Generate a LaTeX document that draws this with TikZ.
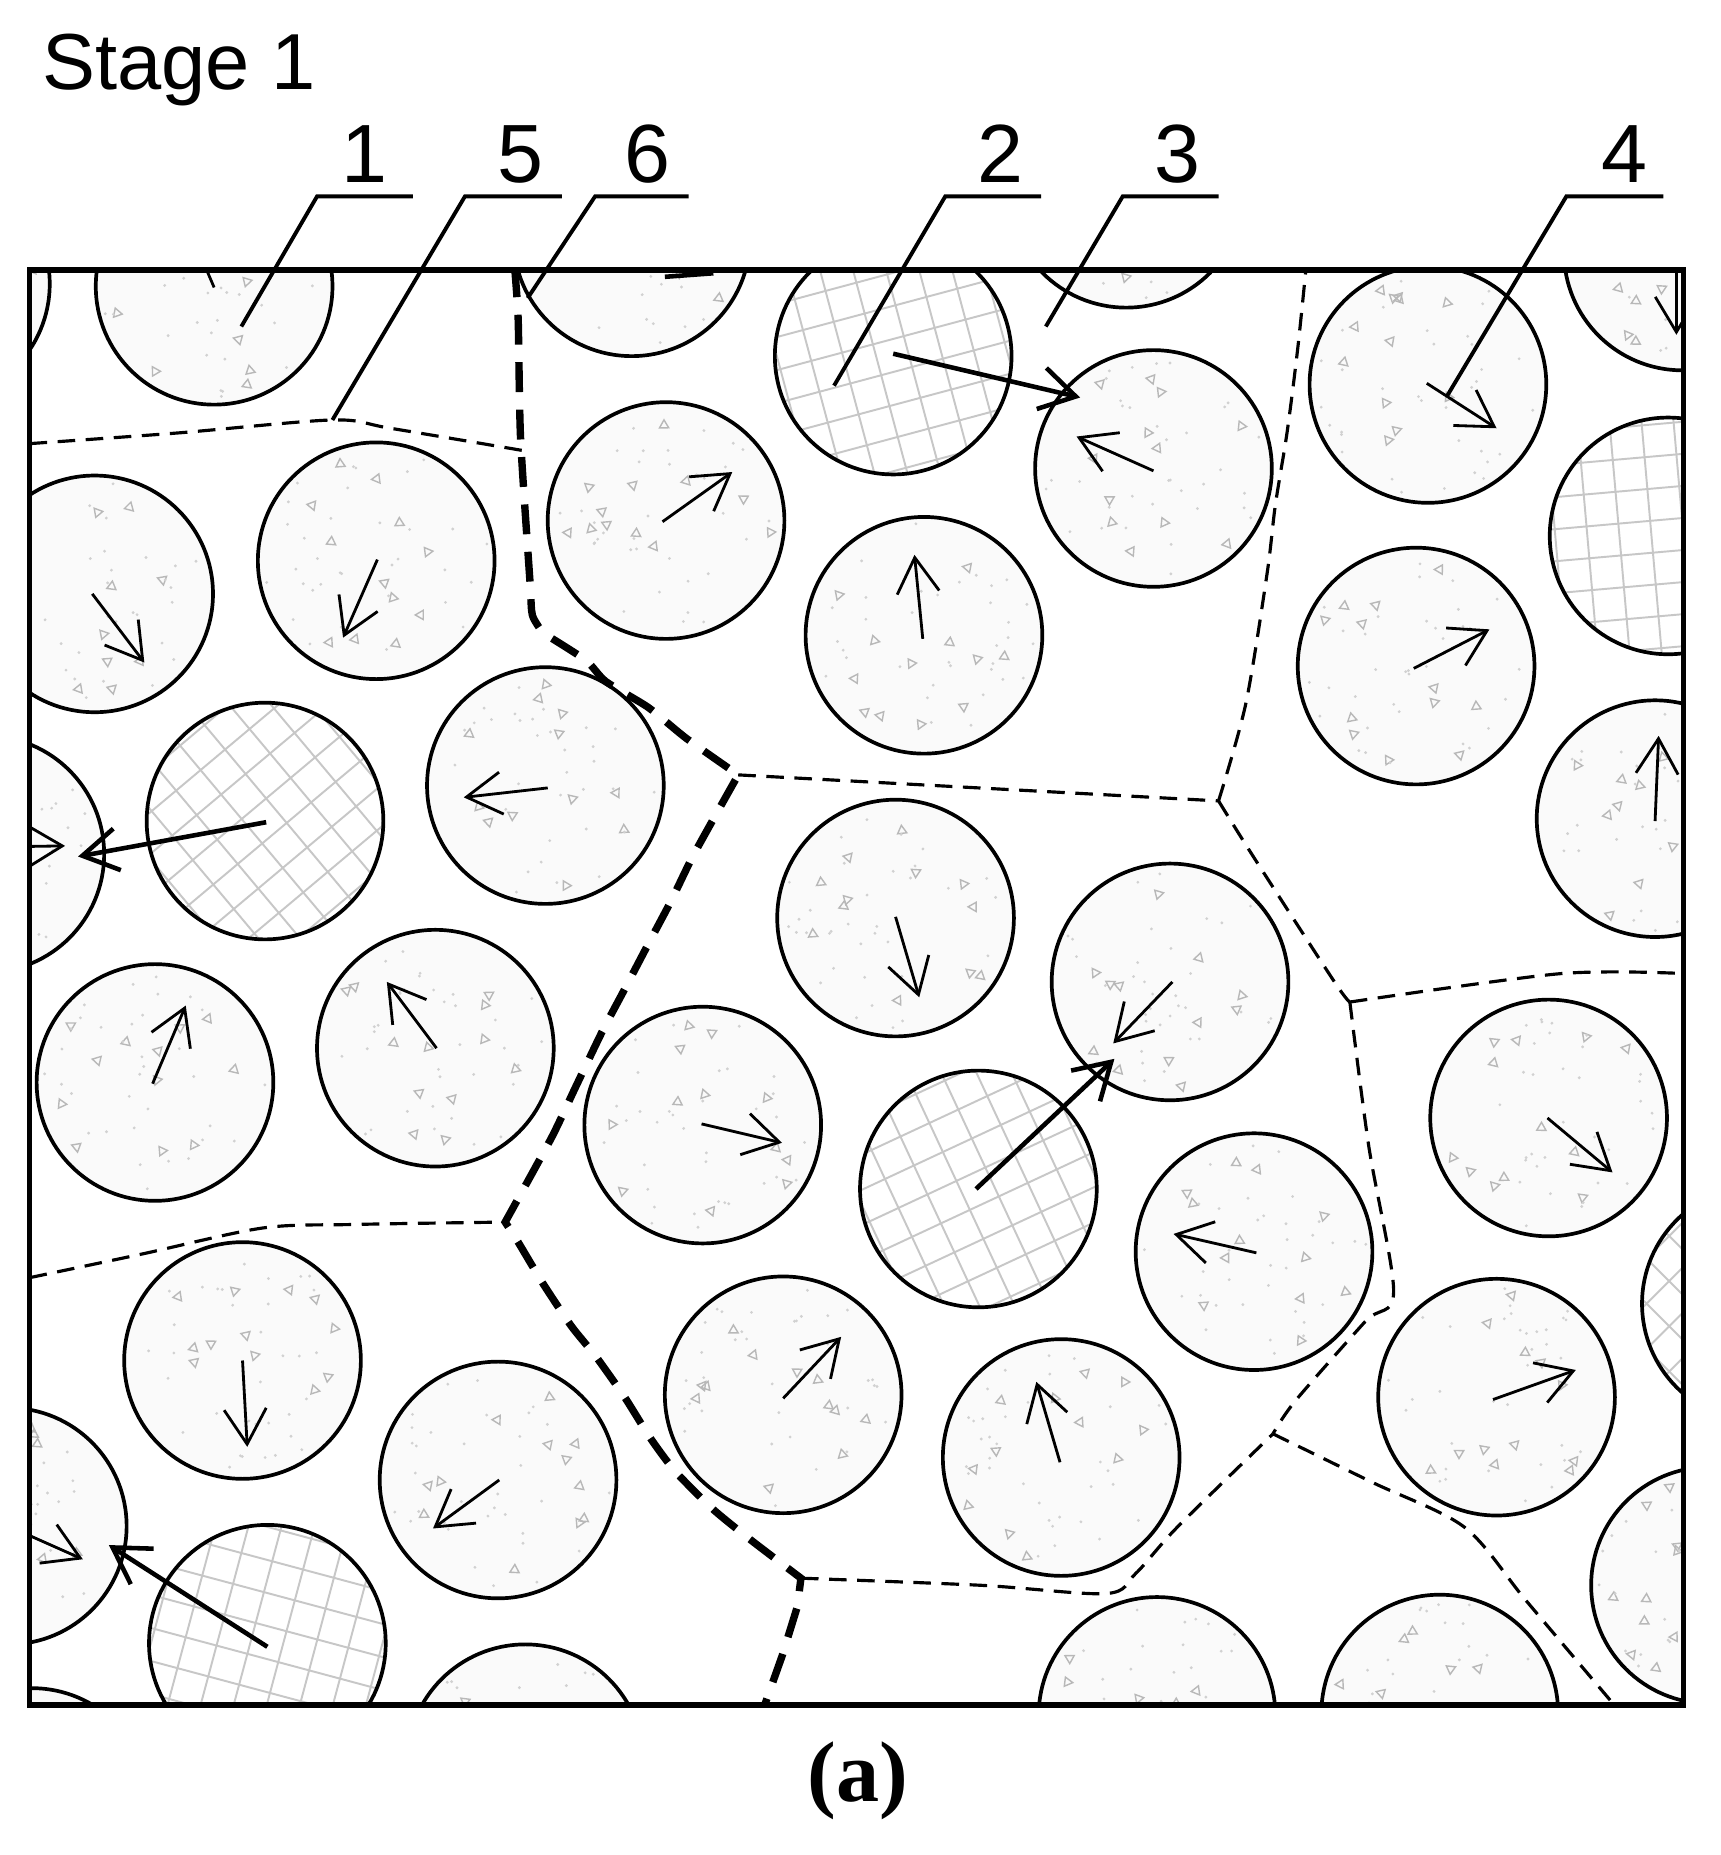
\documentclass[tikz,border=0pt]{standalone}
\usepackage{fontspec}
\setmainfont{Liberation Sans}
\newfontfamily\capserif{Liberation Serif}
\usetikzlibrary{arrows.meta}
\newcommand\Rc{1.1829cm}
\begin{document}
\begin{tikzpicture}[x=0.011829cm,y=-0.011829cm,
  stipfill/.style={fill=black!2},
  stiptri/.style={draw=black!28,line width=0.4pt},
  stipdot/.style={fill=black!18},
  hatchline/.style={draw=black!22,line width=0.55pt},
  circ/.style={draw=black,line width=1.05pt},
  inarr/.style={line width=0.8pt,-{Straight Barb[length=10pt,width=12pt]}},
  longarr/.style={line width=1.3pt,-{Straight Barb[length=10pt,width=12pt]}},
  thindash/.style={line width=0.9pt,dash pattern=on 5pt off 3pt},
  thickdash/.style={line width=2.1pt,dash pattern=on 8.5pt off 5pt},
  leader/.style={line width=1.1pt},
  frame/.style={line width=1.6pt},
  lab/.style={anchor=base,inner sep=0pt,font=\fontsize{23.5pt}{28pt}\selectfont}]
\pgfmathsetseed{4711}
\newcommand\stipC[2]{%
  \fill[stipfill] (#1,#2) circle[radius=\Rc];
  \begin{scope}
    \clip (#1,#2) circle[radius=\Rc];
    \foreach \k in {1,...,12}{%
      \pgfmathsetmacro\rr{90*sqrt(rnd)}%
      \pgfmathsetmacro\aa{360*rnd}%
      \pgfmathsetmacro\bb{360*rnd}%
      \pgfmathsetmacro\px{#1+\rr*cos(\aa)}%
      \pgfmathsetmacro\py{#2+\rr*sin(\aa)}%
      \draw[stiptri,shift={(\px,\py)},rotate=\bb] (90:4.5) -- (210:4.5) -- (330:4.5) -- cycle;
    }
    \foreach \k in {1,...,34}{%
      \pgfmathsetmacro\rr{95*sqrt(rnd)}%
      \pgfmathsetmacro\aa{360*rnd}%
      \pgfmathsetmacro\px{#1+\rr*cos(\aa)}%
      \pgfmathsetmacro\py{#2+\rr*sin(\aa)}%
      \fill[stipdot] (\px,\py) circle[radius=0.45pt];
    }
  \end{scope}
  \draw[circ] (#1,#2) circle[radius=\Rc];
}
\newcommand\hatchC[3]{%
  \fill[white] (#1,#2) circle[radius=\Rc];
  \begin{scope}
    \clip (#1,#2) circle[radius=\Rc];
    \begin{scope}[shift={(#1,#2)},rotate=#3]
      \foreach \k in {-5,...,4}{%
        \draw[hatchline] (\k*27+13,-130) -- (\k*27+13,130);
        \draw[hatchline] (-130,\k*27+13) -- (130,\k*27+13);
      }
    \end{scope}
  \end{scope}
  \draw[circ] (#1,#2) circle[radius=\Rc];
}
\useasboundingbox (0,0) rectangle (1454,1568);
\fill[white] (0,0) rectangle (1454,1568);

\begin{scope}
\clip (25,228) rectangle (1423,1441);
% aggregates
\stipC{-58}{240}
\stipC{181}{242}
\stipC{534}{201}
\hatchC{755}{301}{15}
\stipC{952}{160}
\stipC{975}{396}
\stipC{1207}{325}
\stipC{1422}{213}
\stipC{80}{502}
\stipC{318}{474}
\stipC{563}{440}
\stipC{781}{537}
\hatchC{1410}{453}{5}
\stipC{1197}{563}
\stipC{-12}{722}
\hatchC{224}{694}{40}
\stipC{461}{664}
\stipC{757}{776}
\stipC{989}{830}
\stipC{1399}{692}
\stipC{131}{915}
\stipC{368}{886}
\stipC{594}{951}
\hatchC{827}{1005}{25}
\stipC{1060}{1058}
\stipC{1309}{945}
\hatchC{1488}{1102}{45}
\stipC{205}{1150}
\stipC{421}{1251}
\stipC{662}{1179}
\stipC{897}{1232}
\stipC{1265}{1181}
\stipC{7}{1290}
\hatchC{226}{1389}{-15}
\stipC{1445}{1340}
\stipC{444}{1490}
\stipC{978}{1450}
\stipC{1217}{1448}
\stipC{27}{1527}

% thin boundaries
\draw[thindash] plot[smooth,tension=0.5] coordinates {(25,375) (150,366) (281,355) (330,362) (443,381)};
\draw[thindash] plot[smooth,tension=0.5] coordinates {(25,1080) (120,1060) (222,1038) (300,1035) (427,1033)};
\draw[thindash] (624,655) -- (1030,677);
\draw[thindash] plot[smooth,tension=0.5] coordinates {(1030,677) (1053,595) (1071,485) (1078,427) (1088,365) (1097,294) (1104,226)};
\draw[thindash] plot[smooth,tension=0.5] coordinates {(1030,677) (1060,725) (1128,830) (1141,847)};
\draw[thindash] plot[smooth,tension=0.5] coordinates {(1141,847) (1319,823) (1425,823)};
\draw[thindash] plot[smooth,tension=0.5] coordinates {(1141,847) (1157,969) (1178,1092) (1154,1117) (1095,1184) (1076,1212)};
\draw[thindash] plot[smooth,tension=0.5] coordinates {(677,1334) (829,1340) (935,1347) (960,1330) (995,1291) (1076,1212)};
\draw[thindash] plot[smooth,tension=0.5] coordinates {(1076,1212) (1160,1253) (1238,1291) (1290,1353) (1366,1443)};

% thick boundary
\draw[thickdash] plot[smooth,tension=0.4] coordinates {(435,226) (438,270) (440,370) (448,492) (450,520) (459,535)}
  -- plot[smooth,tension=0.4] coordinates {(459,535) (495,558) (512,576) (548,598) (580,624) (624,655)}
  -- plot[smooth,tension=0.4] coordinates {(624,655) (606,687) (585,725) (567,762) (549,796) (527,838) (509,872) (486,920) (466,962) (427,1033)}
  -- plot[smooth,tension=0.4] coordinates {(427,1033) (438,1050) (459,1085) (483,1121) (504,1147) (528,1181) (550,1216) (571,1244) (603,1276) (635,1302) (677,1334)}
  -- (674,1358) -- (661,1400) -- (645,1445);

% small clipped pieces
\draw[line width=0.8pt] (175,229) -- (181,243);
\draw[line width=1.3pt] (562,234) -- (603,231);

% particle arrows
\draw[inarr] (975,398) -- (910,369);
\draw[inarr] (1206,324) -- (1265,362);
\draw[inarr] (1417,200) -- (1417,283);
\draw[inarr] (78,502) -- (122,560);
\draw[inarr] (319,473) -- (290,539);
\draw[inarr] (560,441) -- (619,399);
\draw[inarr] (780,540) -- (773,469);
\draw[inarr] (1195,565) -- (1259,532);
\draw[inarr] (-10,716) -- (55,715);
\draw[inarr] (463,666) -- (392,674);
\draw[inarr] (757,775) -- (777,843);
\draw[inarr] (991,830) -- (941,882);
\draw[inarr] (1399,694) -- (1402,622);
\draw[inarr] (129,916) -- (157,850);
\draw[inarr] (369,886) -- (327,830);
\draw[inarr] (593,950) -- (661,966);
\draw[inarr] (1062,1059) -- (992,1043);
\draw[inarr] (1308,945) -- (1363,991);
\draw[inarr] (205,1150) -- (209,1223);
\draw[inarr] (422,1251) -- (366,1292);
\draw[inarr] (662,1182) -- (711,1130);
\draw[inarr] (896,1236) -- (876,1168);
\draw[inarr] (1262,1183) -- (1332,1158);
\draw[inarr] (7,1290) -- (70,1318);

% long arrows from hatched particles
\draw[longarr] (755,299) -- (913,336);
\draw[longarr] (225,695) -- (66,724);
\draw[longarr] (825,1005) -- (942,895);
\draw[longarr] (226,1392) -- (92,1306);
\end{scope}

\draw[frame] (25,228) rectangle (1423,1441);

% leaders and labels
\draw[leader] (204,276) -- (268,166) -- (349,166);
\draw[leader] (281,355) -- (393,166) -- (475,166);
\draw[leader] (446,252) -- (503,166) -- (582,166);
\draw[leader] (705,326) -- (799,166) -- (880,166);
\draw[leader] (884,276) -- (949,166) -- (1030,166);
\draw[leader] (1223,335) -- (1324,166) -- (1406,166);
\node[lab] (l1) at (308,154) {1};
\node[lab] (l5) at (440,154) {5};
\node[lab] (l6) at (547,154) {6};
\node[lab] (l2) at (846,154) {2};
\node[lab] (l3) at (995,154) {3};
\node[lab] (l4) at (1373,154) {4};

\node[anchor=base west,inner sep=0pt,font=\fontsize{22.6pt}{27pt}\selectfont] (title) at (35,76) {Stage 1};
\node[anchor=base,inner sep=0pt,font=\capserif\bfseries\fontsize{24.5pt}{29pt}\selectfont] (cap) at (725,1523) {(a)};
\end{tikzpicture}
\end{document}
